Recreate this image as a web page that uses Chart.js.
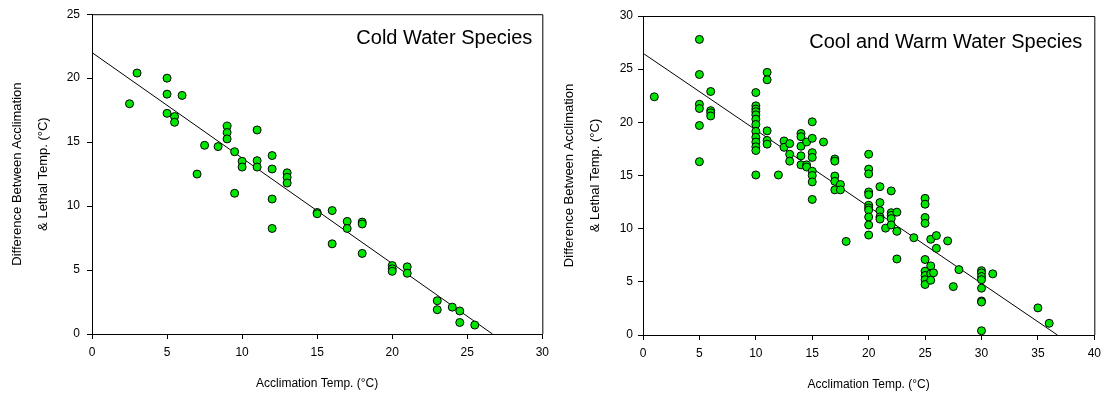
<!DOCTYPE html>
<html><head><meta charset="utf-8">
<script src="https://cdn.jsdelivr.net/npm/chart.js@4/dist/chart.umd.min.js"></script>
<style>
html,body{margin:0;padding:0;background:#fff;width:1107px;height:398px;overflow:hidden}
.box{position:absolute;top:0;height:398px}
#b1{left:0;width:555px}
#b2{left:555px;width:552px}
</style></head><body>
<div class="box" id="b1"><canvas id="c1" width="555" height="398"></canvas></div>
<div class="box" id="b2"><canvas id="c2" width="552" height="398"></canvas></div>
<script>
// ---- Data ----
const coldTitle = "Cold Water Species";
const warmTitle = "Cool and Warm Water Species";
const xAxisTitle = "Acclimation Temp. (°C)";
const yAxisTitle = ["Difference Between Acclimation", "& Lethal Temp. (°C)"];

const coldX = [2.5,3,5,5,6,5,5.5,5.5,7,7.5,8.4,9,9,9,9.5,10,10,11,11,11,12,12,13,13,13,9.5,12,12,15,15,16,16,17,17,18,18,18,20,20,20,21,21,23,23,24,24.5,24.5,25.5];
const coldY = [18,20.4,20,18.75,18.65,17.25,17,16.55,12.5,14.75,14.65,16.25,15.75,15.25,14.25,13.5,13.05,15.95,13.55,13.05,13.95,12.9,12.6,12.25,11.8,11,10.55,8.25,9.5,9.4,9.65,7.05,8.8,8.25,8.75,8.6,6.3,5.35,5.1,4.9,5.25,4.75,2.6,1.9,2.1,1.8,0.9,0.7];

const warmX = [1,
 5,5,5,5,5,5,
 6,6,6,6,
 10,10,10,10,10,10,10,10,10,10,10,10,10,
 11,11,11,11,11,
 12,12.5,12.5,
 13,13,13,
 14,14,14,14,14,
 14.5,14.5,14.5,
 15,15,15,15,15,15,15,15,
 16,
 17,17,17,17,17,
 17.5,17.5,
 18,
 20,20,20,20,20,20,20,20,20,20,20,
 21,21,21,21,21,
 21.5,
 22,22,22,22,22,
 22.5,22.5,22.5,
 24,
 25,25,25,25,25,25,25,25,25,
 25.5,25.5,25.5,25.5,
 25.75,
 26,26,
 27,27.5,28,
 30,30,30,30,30,30,30,30,
 31,35,36];
const warmY = [22.4,
 27.8,24.5,21.7,21.3,19.7,16.3,
 22.9,21.1,20.9,20.6,
 22.8,21.55,21.25,21.0,20.7,20.3,19.8,19.15,18.6,18.15,17.7,17.35,15.05,
 24.7,24.0,19.2,18.3,17.95,
 15.05,18.25,17.65,
 18.0,17.0,16.35,
 18.95,18.65,17.75,16.85,16.0,
 18.15,16.0,15.8,
 20.05,18.5,17.15,16.7,15.4,15.0,14.4,12.75,
 18.15,
 16.55,16.35,14.95,14.45,13.65,
 14.15,13.65,
 8.8,
 17.0,15.6,15.15,13.45,13.2,12.2,11.95,11.75,11.1,10.35,9.4,
 13.95,12.45,11.7,11.1,10.9,
 10.05,
 13.55,11.5,11.25,10.95,10.35,
 11.55,9.75,7.15,
 9.15,
 12.85,12.3,11.05,10.5,7.1,6.0,5.6,5.2,4.75,
 9.0,6.5,5.75,5.15,
 5.85,
 9.35,8.15,
 8.85,4.55,6.15,
 6.05,5.85,5.5,5.2,4.4,3.2,3.1,0.4,
 5.75,2.55,1.1];

// regression fits: [intercept, slope]
const coldFit = [22.0, -0.8246];
const warmFit = [26.5, -0.7215];

const coldXMax = 30, coldYMax = 25;
const warmXMax = 40, warmYMax = 30;
const tickStep = 5;

// ---- Rendering ----
const FONT = "'Liberation Sans', Arial, Helvetica, sans-serif";

const frameAndTitle = {
  id: 'frameAndTitle',
  afterDraw(chart, args, opts) {
    const {ctx, chartArea: a} = chart;
    ctx.save();
    ctx.strokeStyle = '#000';
    ctx.lineWidth = 1;
    ctx.beginPath();
    ctx.moveTo(a.left, a.top + 0.5);
    ctx.lineTo(a.right + 0.5, a.top + 0.5);
    ctx.lineTo(a.right + 0.5, a.bottom);
    ctx.stroke();
    ctx.fillStyle = '#000';
    ctx.font = opts.size + 'px ' + FONT;
    ctx.textAlign = 'right';
    ctx.textBaseline = 'middle';
    ctx.fillText(opts.text, a.right - opts.dx, a.top + opts.dy);
    ctx.restore();
  }
};

function makeChart(id, xs, ys, fit, xMax, yMax, title, L) {
  const pts = xs.map((x, i) => ({x: x, y: ys[i]}));
  const xEnd = -fit[0] / fit[1];
  const line = [{x: 0, y: fit[0]}, {x: xEnd, y: fit[0] + fit[1] * xEnd}];
  return new Chart(document.getElementById(id), {
    type: 'scatter',
    data: {
      datasets: [
        {
          type: 'line', data: line, borderColor: '#000', borderWidth: 1,
          pointRadius: 0, fill: false, tension: 0, order: 2
        },
        {
          data: pts, backgroundColor: '#00e600', borderColor: '#000',
          borderWidth: 1, pointRadius: 4, pointHoverRadius: 4, order: 1
        }
      ]
    },
    options: {
      responsive: false, animation: false, devicePixelRatio: 1,
      layout: {padding: {left: 0, right: L.right, top: L.top, bottom: 0}},
      plugins: {
        legend: {display: false}, tooltip: {enabled: false},
        frameAndTitle: {text: title, size: 20, dx: L.tdx, dy: L.tdy}
      },
      scales: {
        x: {
          type: 'linear', min: 0, max: xMax,
          afterFit: s => { s.height = L.xh; },
          ticks: {stepSize: tickStep, color: '#000', font: {family: FONT, size: 12}, padding: L.xpad},
          grid: {drawOnChartArea: false, drawTicks: true, tickLength: 5, color: '#000', tickColor: '#000'},
          border: {display: true, color: '#000', width: 1},
          title: {display: true, text: xAxisTitle, color: '#000',
                  font: {family: FONT, size: 12}, padding: {top: 0, bottom: L.xtb}}
        },
        y: {
          type: 'linear', min: 0, max: yMax,
          afterFit: s => { s.width = L.yw; },
          ticks: {stepSize: tickStep, color: '#000', font: {family: FONT, size: 12}, padding: L.ypad},
          grid: {drawOnChartArea: false, drawTicks: true, tickLength: 5, color: '#000', tickColor: '#000'},
          border: {display: true, color: '#000', width: 1},
          title: {display: true, text: yAxisTitle, color: '#000',
                  font: {family: FONT, size: 13, lineHeight: 2}, padding: {top: L.ytt, bottom: 0}}
        }
      }
    },
    plugins: [frameAndTitle]
  });
}

makeChart('c1', coldX, coldY, coldFit, coldXMax, coldYMax, coldTitle,
  {right: 8, top: 14, xh: 64, yw: 92, xpad: 6, ypad: 7, xtb: 7, ytt: 4, tdx: 10, tdy: 24});
makeChart('c2', warmX, warmY, warmFit, warmXMax, warmYMax, warmTitle,
  {right: 8, top: 16, xh: 63, yw: 88, xpad: 6, ypad: 5, xtb: 6, ytt: 1, tdx: 12, tdy: 26});
</script>
</body></html>
